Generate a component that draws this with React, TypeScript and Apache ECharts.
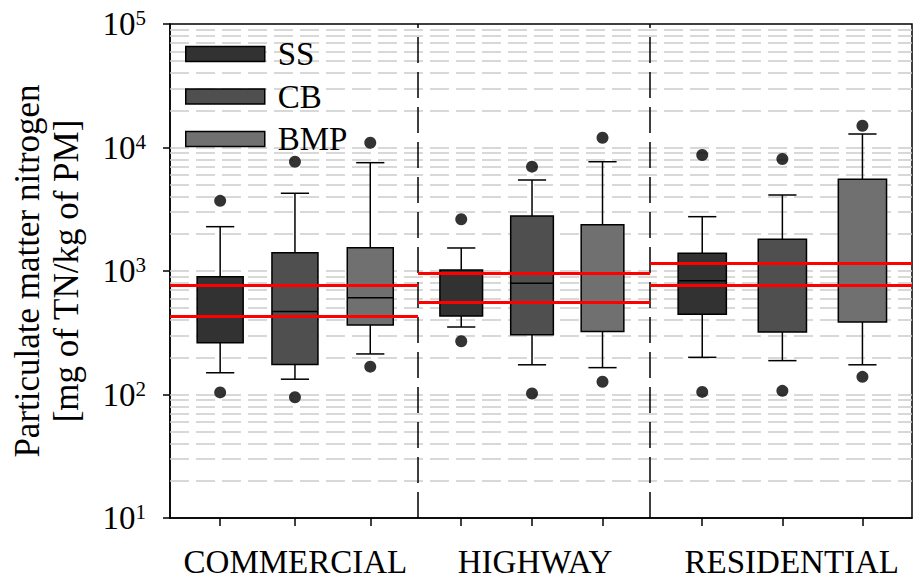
import React, { useEffect, useRef } from "react";
import * as echarts from "echarts";

// ---------- data ----------
const CATEGORIES = ["COMMERCIAL", "HIGHWAY", "RESIDENTIAL"];
const SERIES_NAMES = ["SS", "CB", "BMP"];
// [lower whisker, Q1, median, Q3, upper whisker] per category
const SS_STATS = [
  [150, 263, 432, 899, 2285],
  [352, 432, 558, 1019, 1536],
  [200, 446, 835, 1391, 2753],
];
const CB_STATS = [
  [133, 175, 469, 1407, 4260],
  [174, 305, 795, 2790, 5455],
  [188, 321, 770, 1806, 4125],
];
const BMP_STATS = [
  [213, 365, 608, 1545, 7535],
  [165, 323, 558, 2370, 7670],
  [174, 386, 1154, 5525, 12860],
];
// [low outlier, high outlier] per category
const SS_OUTLIERS = [[104, 3700], [270, 2622], [105, 8700]];
const CB_OUTLIERS = [[95, 7670], [102, 7000], [107, 8070]];
const BMP_OUTLIERS = [[168, 10940], [127, 12000], [139, 15020]];
// red reference lines per category
const REF_UPPER = [766, 951, 1154];
const REF_LOWER = [432, 558, 770];
const Y_MIN = 10;
const Y_MAX = 100000;

// ---------- layout (x in plot units 0..10) ----------
const BOX_POS = [
  [0.676, 3.925, 7.173],
  [1.684, 4.879, 8.253],
  [2.699, 5.829, 9.332],
];
const GROUP_EDGES = [0, 3.343, 6.472, 10];
const LABEL_POS = [1.69, 4.92, 8.38];
const GROUP_BOX_W = [0.62, 0.575, 0.65];
const CAP_W = 0.38;
const FILLS = ["#323232", "#4f4f4f", "#707070"];
const FONT = "'Liberation Serif', 'Times New Roman', serif";

const STATS = [SS_STATS, CB_STATS, BMP_STATS];
const OUTLIERS = [SS_OUTLIERS, CB_OUTLIERS, BMP_OUTLIERS];

function renderBox(fill: string) {
  return (params: any, api: any) => {
    const x = api.value(0);
    const lo = api.value(1), q1 = api.value(2), md = api.value(3), q3 = api.value(4), hi = api.value(5);
    const w = api.value(6);
    const L = api.coord([x - w / 2, md])[0];
    const R = api.coord([x + w / 2, md])[0];
    const cx = api.coord([x, md])[0];
    const cL = api.coord([x - CAP_W / 2, md])[0];
    const cR = api.coord([x + CAP_W / 2, md])[0];
    const yLo = api.coord([x, lo])[1];
    const yQ1 = api.coord([x, q1])[1];
    const yMd = api.coord([x, md])[1];
    const yQ3 = api.coord([x, q3])[1];
    const yHi = api.coord([x, hi])[1];
    const ls = { stroke: "#000", lineWidth: 1.5 };
    return {
      type: "group",
      children: [
        { type: "line", shape: { x1: cx, y1: yHi, x2: cx, y2: yQ3 }, style: ls },
        { type: "line", shape: { x1: cx, y1: yQ1, x2: cx, y2: yLo }, style: ls },
        { type: "line", shape: { x1: cL, y1: yHi, x2: cR, y2: yHi }, style: ls },
        { type: "line", shape: { x1: cL, y1: yLo, x2: cR, y2: yLo }, style: ls },
        {
          type: "rect",
          shape: { x: L, y: yQ3, width: R - L, height: yQ1 - yQ3 },
          style: { fill, stroke: "#000", lineWidth: 1.5 },
        },
        { type: "line", shape: { x1: L, y1: yMd, x2: R, y2: yMd }, style: ls },
      ],
    };
  };
}

export default function App() {
  const ref = useRef<HTMLDivElement>(null);
  useEffect(() => {
    if (!ref.current) return;
    const chart = echarts.init(ref.current, undefined, { renderer: "svg" });

    const gridValues: number[] = [];
    for (let e = 1; e < 5; e++) {
      for (let k = 1; k <= 9; k++) {
        const v = k * Math.pow(10, e);
        if (v > Y_MIN && v < Y_MAX) gridValues.push(v);
      }
    }

    const boxSeries = SERIES_NAMES.map((name, si) => ({
      name,
      type: "custom",
      xAxisIndex: 0,
      yAxisIndex: 0,
      z: 3,
      itemStyle: { color: FILLS[si], borderColor: "#000", borderWidth: 1.5 },
      renderItem: renderBox(FILLS[si]),
      encode: { x: 0, y: [1, 2, 3, 4, 5] },
      data: STATS[si].map((s, gi) => [BOX_POS[si][gi], ...s, GROUP_BOX_W[gi]]),
      silent: true,
    }));

    const outlierData: number[][] = [];
    OUTLIERS.forEach((arr, si) =>
      arr.forEach((pair, gi) => pair.forEach((v) => outlierData.push([BOX_POS[si][gi], v])))
    );

    const refLines: any[] = [];
    CATEGORIES.forEach((_, gi) => {
      [REF_UPPER[gi], REF_LOWER[gi]].forEach((v) => {
        refLines.push([
          { coord: [GROUP_EDGES[gi], v] },
          { coord: [GROUP_EDGES[gi + 1], v] },
        ]);
      });
    });

    const option: any = {
      animation: false,
      backgroundColor: "#fff",
      textStyle: { fontFamily: FONT },
      grid: {
        left: 168,
        right: 2,
        top: 24,
        bottom: 66,
        show: true,
        borderColor: "#000",
        borderWidth: 1.5,
        backgroundColor: "transparent",
      },
      legend: {
        data: SERIES_NAMES,
        orient: "vertical",
        left: 180,
        top: 32,
        icon: "rect",
        itemWidth: 79,
        itemHeight: 15,
        itemGap: 8.5,
        itemStyle: { borderColor: "#000", borderWidth: 1.5 },
        textStyle: {
          fontFamily: FONT,
          fontSize: 33,
          lineHeight: 34,
          color: "#000",
          padding: [0, 0, 0, 8],
        },
        selectedMode: false,
      },
      xAxis: {
        type: "value",
        min: 0,
        max: 10,
        axisLine: { show: true, lineStyle: { color: "#000", width: 1.5 } },
        axisTick: {
          show: true,
          length: 8,
          customValues: BOX_POS.flat().sort((a, b) => a - b),
          lineStyle: { color: "#000", width: 1.5 },
        },
        axisLabel: {
          show: true,
          customValues: LABEL_POS,
          formatter: (v: number) => {
            const i = LABEL_POS.findIndex((p) => Math.abs(p - v) < 1e-6);
            return i >= 0 ? CATEGORIES[i] : "";
          },
          fontFamily: FONT,
          fontSize: 33,
          color: "#000",
          margin: 27,
        },
        splitLine: { show: false },
      },
      yAxis: {
        type: "log",
        logBase: 10,
        min: Y_MIN,
        max: Y_MAX,
        splitNumber: 4,
        name: "Particulate matter nitrogen\n[mg of TN/kg of PM]",
        nameLocation: "middle",
        nameRotate: 90,
        nameGap: 84,
        nameTextStyle: { fontFamily: FONT, fontSize: 35, lineHeight: 39, color: "#000" },
        axisLine: { show: true, lineStyle: { color: "#000", width: 1.5 } },
        axisTick: { show: true, length: 7, lineStyle: { color: "#000", width: 1.5 } },
        axisLabel: {
          margin: 24,
          formatter: (v: number) => `{b|10}{s|${Math.round(Math.log10(v))}}`,
          rich: {
            b: { fontFamily: FONT, fontSize: 33, lineHeight: 33, color: "#000", verticalAlign: "bottom" },
            s: { fontFamily: FONT, fontSize: 21, lineHeight: 21, color: "#000", verticalAlign: "top" },
          },
        },
        splitLine: { show: false },
      },
      series: [
        {
          name: "_grid",
          type: "line",
          data: [],
          z: 1,
          silent: true,
          markLine: {
            z: 1,
            silent: true,
            symbol: ["none", "none"],
            label: { show: false },
            emphasis: { disabled: true },
            lineStyle: { color: "#cccccc", width: 1.5, type: [19, 7] },
            data: gridValues.map((v) => ({ yAxis: v })),
          },
        },
        {
          name: "_dividers",
          type: "line",
          data: [],
          z: 2,
          silent: true,
          markLine: {
            z: 2,
            silent: true,
            symbol: ["none", "none"],
            label: { show: false },
            emphasis: { disabled: true },
            lineStyle: { color: "#000", width: 1.5, type: [26, 9] },
            data: GROUP_EDGES.slice(1, -1).map((x) => ({ xAxis: x })),
          },
        },
        ...boxSeries,
        {
          name: "_outliers",
          type: "scatter",
          symbol: "circle",
          symbolSize: 12,
          z: 4,
          silent: true,
          itemStyle: { color: "#000" },
          data: outlierData,
        },
        {
          name: "_ref",
          type: "line",
          data: [],
          z: 5,
          silent: true,
          markLine: {
            z: 6,
            silent: true,
            symbol: ["none", "none"],
            label: { show: false },
            emphasis: { disabled: true },
            lineStyle: { color: "#ff0000", width: 3, type: "solid" },
            data: refLines,
          },
        },
      ],
    };
    chart.setOption(option);
    return () => chart.dispose();
  }, []);
  return (
    <div
      ref={ref}
      style={{ position: "absolute", left: 0, top: 0, width: 914, height: 584 }}
    />
  );
}
